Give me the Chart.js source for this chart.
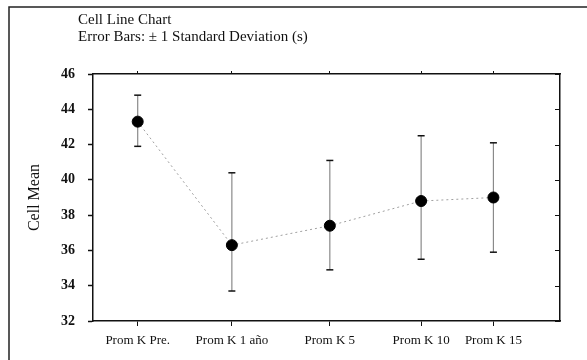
<!DOCTYPE html>
<html>
<head>
<meta charset="utf-8">
<script src="https://cdn.jsdelivr.net/npm/chart.js@4.4.1/dist/chart.umd.min.js"></script>
<style>
  body { margin: 0; background: #fff; }
  #wrap { position: relative; width: 587px; height: 360px; }
</style>
</head>
<body>
<div id="wrap"><canvas id="cellChart"></canvas></div>
<script>
const categories = ["Prom K Pre.", "Prom K 1 año", "Prom K 5", "Prom K 10", "Prom K 15"];
// category positions along the x scale (the original spacing is uneven)
const catPos = [0, 0.99, 2.02, 2.98, 3.74];
const cellMeans = [43.3, 36.3, 37.4, 38.8, 39.0];
const lowerSD = [41.9, 33.7, 34.9, 35.5, 35.9];
const upperSD = [44.8, 40.4, 41.1, 42.5, 42.1];
const titleLines = ["Cell Line Chart", "Error Bars: \u00b1 1 Standard Deviation (s)"];

const serif = '"Liberation Serif", "DejaVu Serif", serif';

// error bars: one small two-point dataset per category
const errorSets = categories.map((c, i) => ({
  label: c + " sd",
  data: [
    { x: catPos[i], y: lowerSD[i] },
    { x: catPos[i], y: upperSD[i] },
  ],
  showLine: true,
  borderColor: "#8a8a8a",
  borderWidth: 1.2,
  pointStyle: "line",
  pointRadius: 3.5,
  pointBorderColor: "#111",
  pointBorderWidth: 1.5,
  order: 2,
}));

const decorPlugin = {
  id: "decor",
  afterDraw(chart) {
    const ctx = chart.ctx;
    const area = chart.chartArea;
    const y = chart.scales.y;
    ctx.save();
    // page frame lines
    ctx.strokeStyle = "#222";
    ctx.lineWidth = 1.5;
    ctx.beginPath();
    ctx.moveTo(9, 360);
    ctx.lineTo(9, 7);
    ctx.lineTo(587, 7);
    ctx.stroke();
    // inward ticks on the right edge
    ctx.lineWidth = 1;
    ctx.strokeStyle = "#111";
    y.ticks.forEach((t) => {
      const py = Math.round(y.getPixelForValue(t.value)) + 0.5;
      const len = t.value % 2 === 0 ? 5 : 3;
      ctx.beginPath();
      ctx.moveTo(area.right - len, py);
      ctx.lineTo(area.right, py);
      ctx.stroke();
    });
    // title
    ctx.fillStyle = "#111";
    ctx.font = "15px " + serif;
    ctx.textBaseline = "alphabetic";
    ctx.fillText(titleLines[0], 78, 24);
    ctx.fillText(titleLines[1], 78, 41);
    ctx.restore();
  },
};

new Chart(document.getElementById("cellChart"), {
  type: "scatter",
  data: {
    datasets: [
      {
        label: "Cell Mean",
        data: catPos.map((x, i) => ({ x: x, y: cellMeans[i] })),
        showLine: true,
        borderColor: "#a0a0a0",
        borderWidth: 1,
        borderDash: [2, 3],
        pointStyle: "circle",
        pointRadius: 5.5,
        pointBackgroundColor: "#000",
        pointBorderColor: "#000",
        order: 0,
      },
      ...errorSets,
    ],
  },
  options: {
    responsive: true,
    maintainAspectRatio: false,
    animation: false,
    layout: { padding: { left: 25, right: 0, top: 0, bottom: 0 } },
    plugins: {
      legend: { display: false },
      tooltip: { enabled: false },
    },
    scales: {
      x: {
        type: "linear",
        position: "bottom",
        min: -0.47,
        max: 4.44,
        afterBuildTicks: (scale) => {
          scale.ticks = catPos.map((v) => ({ value: v }));
        },
        afterFit: (scale) => { scale.height = 39; },
        ticks: {
          autoSkip: false,
          maxRotation: 0,
          padding: 7,
          color: "#111",
          font: { family: serif, size: 13 },
          callback: (v, i) => categories[i],
        },
        grid: { drawOnChartArea: false, tickLength: 5, color: "#111" },
        border: { color: "#111", width: 1.5 },
      },
      x2: {
        type: "linear",
        position: "top",
        min: -0.47,
        max: 4.44,
        afterBuildTicks: (scale) => {
          scale.ticks = catPos.map((v) => ({ value: v }));
        },
        afterFit: (scale) => { scale.height = 74; },
        ticks: { display: false },
        grid: { drawOnChartArea: false, tickLength: 3, color: "#111" },
        border: { color: "#111", width: 1.5 },
      },
      y: {
        position: "left",
        min: 32,
        max: 46,
        afterFit: (scale) => { scale.width = 68; },
        ticks: {
          stepSize: 1,
          padding: 13,
          color: "#111",
          font: { family: serif, size: 14, weight: "bold" },
          callback: (v) => (v % 2 === 0 ? v : ""),
        },
        grid: {
          drawOnChartArea: false,
          tickLength: 5,
          color: "#111",
          tickWidth: (ctx) => (ctx.tick && ctx.tick.value % 2 === 0 ? 1.5 : 1),
        },
        border: { color: "#111", width: 1.5 },
        title: {
          display: true,
          text: "Cell Mean",
          color: "#111",
          font: { family: serif, size: 16 },
          padding: 0,
        },
      },
      y2: {
        position: "right",
        min: 32,
        max: 46,
        afterFit: (scale) => { scale.width = 27; },
        ticks: { display: false },
        grid: { display: false },
        border: { color: "#111", width: 1.5 },
      },
    },
  },
  plugins: [decorPlugin],
});
</script>
</body>
</html>
